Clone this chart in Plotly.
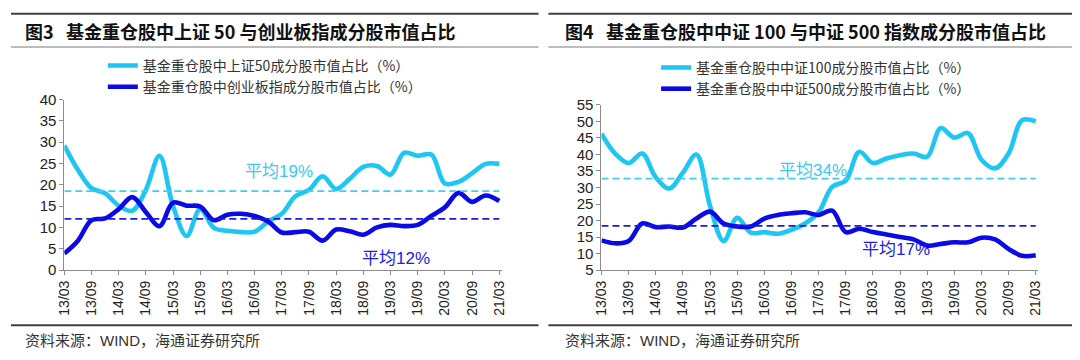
import plotly.graph_objects as go

# ---------------- data ----------------
quarter_idx = list(range(33))  # 13/03 ... 21/03 quarterly
tick_labels = ["13/03", "13/09", "14/03", "14/09", "15/03", "15/09", "16/03", "16/09",
               "17/03", "17/09", "18/03", "18/09", "19/03", "19/09", "20/03", "20/09", "21/03"]
tick_pos = list(range(0, 33, 2))

sse50_share = [29.2, 23.5, 19.2, 18.0, 15.1, 13.9, 18.8, 26.8, 15.0, 8.0, 14.3, 9.9, 9.2, 8.9, 9.0,
               11.4, 13.2, 17.3, 18.8, 22.0, 19.0, 21.4, 24.2, 24.4, 22.4, 27.5, 26.8, 27.1, 20.3,
               20.7, 22.7, 24.9, 24.9]
chinext_share = [3.9, 6.9, 11.7, 12.1, 14.3, 17.1, 13.6, 10.3, 15.8, 15.1, 14.9, 11.7, 13.0, 13.2,
                 12.7, 11.4, 8.8, 8.9, 9.0, 6.9, 9.5, 9.1, 8.3, 10.0, 10.6, 10.3, 10.6, 12.7, 14.7,
                 18.1, 16.0, 17.5, 16.2]
csi100_share = [46.3, 40.3, 37.4, 40.3, 33.1, 29.7, 34.5, 40.0, 24.4, 13.8, 20.8, 16.3, 16.5, 16.0,
                17.2, 19.1, 22.5, 30.2, 32.1, 40.8, 37.4, 38.8, 39.8, 40.3, 39.3, 48.0, 45.1, 46.5,
                38.4, 35.8, 40.3, 50.4, 50.0]
csi500_share = [14.0, 13.1, 13.8, 19.1, 18.0, 18.2, 17.9, 20.6, 22.7, 19.1, 18.2, 18.2, 20.6, 21.7,
                22.2, 22.5, 21.7, 23.0, 16.5, 17.5, 16.5, 15.8, 15.0, 14.3, 12.4, 12.9, 13.4, 13.4,
                14.8, 14.3, 11.4, 9.3, 9.5]

avg_sse50, avg_chinext = 18.5, 12.0
avg_csi100, avg_csi500 = 32.7, 18.4

name_sse50 = "基金重仓股中上证50成分股市值占比（%）"
name_chinext = "基金重仓股中创业板指成分股市值占比（%）"
name_csi100 = "基金重仓股中中证100成分股市值占比（%）"
name_csi500 = "基金重仓股中中证500成分股市值占比（%）"

fig_no_left, title_left = "图3", "基金重仓股中上证 50 与创业板指成分股市值占比"
fig_no_right, title_right = "图4", "基金重仓股中中证 100 与中证 500 指数成分股市值占比"
source_text = "资料来源：WIND，海通证券研究所"

# ---------------- style ----------------
LIGHT = "#1EC6F3"
DARK = "#0A0AE6"
LIGHT_DASH = "#3DCDF5"
DARK_DASH = "#1A1AE0"
AXIS = "#8C8C8C"
W, H = 1080, 360
FONT = "Arial, 'Liberation Sans', 'Noto Sans CJK SC', sans-serif"
CJK = "'Noto Sans CJK SC', sans-serif"
CJK_TXT = "Arial, 'Liberation Sans', 'Noto Sans CJK SC', sans-serif"


def px(v):
    return v / W


def py(v):
    return 1 - v / H


fig = go.Figure()

# left panel
fig.add_trace(go.Scatter(x=quarter_idx, y=sse50_share, name=name_sse50, mode="lines",
                         line=dict(color=LIGHT, width=4.6, shape="spline", smoothing=1),
                         xaxis="x", yaxis="y", legend="legend"))
fig.add_trace(go.Scatter(x=quarter_idx, y=chinext_share, name=name_chinext, mode="lines",
                         line=dict(color=DARK, width=4.6, shape="spline", smoothing=1),
                         xaxis="x", yaxis="y", legend="legend"))
fig.add_trace(go.Scatter(x=[0, 32], y=[avg_sse50] * 2, mode="lines", showlegend=False,
                         line=dict(color=LIGHT_DASH, width=1.8, dash="7px,4px"), xaxis="x", yaxis="y"))
fig.add_trace(go.Scatter(x=[0, 32], y=[avg_chinext] * 2, mode="lines", showlegend=False,
                         line=dict(color=DARK_DASH, width=1.8, dash="7px,4px"), xaxis="x", yaxis="y"))

# right panel
fig.add_trace(go.Scatter(x=quarter_idx, y=csi100_share, name=name_csi100, mode="lines",
                         line=dict(color=LIGHT, width=4.6, shape="spline", smoothing=1),
                         xaxis="x2", yaxis="y2", legend="legend2"))
fig.add_trace(go.Scatter(x=quarter_idx, y=csi500_share, name=name_csi500, mode="lines",
                         line=dict(color=DARK, width=4.6, shape="spline", smoothing=1),
                         xaxis="x2", yaxis="y2", legend="legend2"))
fig.add_trace(go.Scatter(x=[0, 32], y=[avg_csi100] * 2, mode="lines", showlegend=False,
                         line=dict(color=LIGHT_DASH, width=1.8, dash="7px,4px"), xaxis="x2", yaxis="y2"))
fig.add_trace(go.Scatter(x=[0, 32], y=[avg_csi500] * 2, mode="lines", showlegend=False,
                         line=dict(color=DARK_DASH, width=1.8, dash="7px,4px"), xaxis="x2", yaxis="y2"))

xcommon = dict(range=[0, 32.2], tickvals=tick_pos, ticktext=tick_labels, tickangle=-90,
               ticks="outside", ticklen=4, tickcolor=AXIS, showline=True, linecolor=AXIS,
               linewidth=1, showgrid=False, zeroline=False,
               tickfont=dict(family=FONT, size=14, color="#222"))
ycommon = dict(dtick=5, ticks="outside", ticklen=4, tickcolor=AXIS, showline=True,
               linecolor=AXIS, linewidth=1, showgrid=False, zeroline=False,
               tickfont=dict(family=FONT, size=15, color="#222"))

fig.update_layout(
    width=W, height=H, margin=dict(l=0, r=0, t=0, b=0),
    paper_bgcolor="white", plot_bgcolor="white",
    xaxis=dict(domain=[px(57), px(500)], anchor="y", **xcommon),
    yaxis=dict(domain=[py(274), py(95)], range=[0, 40], anchor="x", **ycommon),
    xaxis2=dict(domain=[px(600.7), px(1043)], anchor="y2", **xcommon),
    yaxis2=dict(domain=[py(274), py(100.7)], range=[5, 55], anchor="x2", **ycommon),
    legend=dict(x=px(96), y=py(43), xanchor="left", yanchor="top", bgcolor="rgba(0,0,0,0)",
                font=dict(family=CJK, size=14, color="#333"), tracegroupgap=0),
    legend2=dict(x=px(656), y=py(45), xanchor="left", yanchor="top", bgcolor="rgba(0,0,0,0)",
                 font=dict(family=CJK, size=14, color="#333"), tracegroupgap=0),
    showlegend=True,
)

title_font = dict(family=CJK, size=18, color="#111", weight="bold")
ann = [
    dict(text=fig_no_left, x=px(15), y=py(23), xref="paper", yref="paper", xanchor="left",
         yanchor="middle", showarrow=False, font=title_font),
    dict(text=title_left, x=px(57), y=py(23), xref="paper", yref="paper", xanchor="left",
         yanchor="middle", showarrow=False, font=title_font),
    dict(text=fig_no_right, x=px(562), y=py(23), xref="paper", yref="paper", xanchor="left",
         yanchor="middle", showarrow=False, font=title_font),
    dict(text=title_right, x=px(603), y=py(23), xref="paper", yref="paper", xanchor="left",
         yanchor="middle", showarrow=False, font=title_font),
    dict(text=source_text, x=px(15), y=py(348), xref="paper", yref="paper", xanchor="left",
         yanchor="middle", showarrow=False, font=dict(family=CJK_TXT, size=15, color="#333")),
    dict(text=source_text, x=px(562), y=py(348), xref="paper", yref="paper", xanchor="left",
         yanchor="middle", showarrow=False, font=dict(family=CJK_TXT, size=15, color="#333")),
    dict(text="平均19%", x=15.8, y=23.2, xref="x", yref="y", showarrow=False,
         font=dict(family=CJK_TXT, size=17, color="#3CC8F0")),
    dict(text="平均12%", x=24.4, y=2.7, xref="x", yref="y", showarrow=False,
         font=dict(family=CJK_TXT, size=17, color="#2020E0")),
    dict(text="平均34%", x=15.6, y=35.3, xref="x2", yref="y2", showarrow=False,
         font=dict(family=CJK_TXT, size=17, color="#3CC8F0")),
    dict(text="平均17%", x=21.7, y=11.1, xref="x2", yref="y2", showarrow=False,
         font=dict(family=CJK_TXT, size=17, color="#2020E0")),
]
fig.update_layout(annotations=ann)

shapes = []
for x0, x1 in [(3, 537), (547, 1077)]:
    shapes.append(dict(type="line", xref="paper", yref="paper", x0=px(x0), x1=px(x1),
                       y0=py(5), y1=py(5), line=dict(color="#404040", width=2)))
    shapes.append(dict(type="line", xref="paper", yref="paper", x0=px(x0), x1=px(x1),
                       y0=py(40), y1=py(40), line=dict(color="#A6A6A6", width=1.5)))
    shapes.append(dict(type="line", xref="paper", yref="paper", x0=px(x0), x1=px(x1),
                       y0=py(332), y1=py(332), line=dict(color="#404040", width=2)))
fig.update_layout(shapes=shapes)

fig.write_html("out.html", config={"displayModeBar": False},
               post_script="document.body.style.margin='0';")
